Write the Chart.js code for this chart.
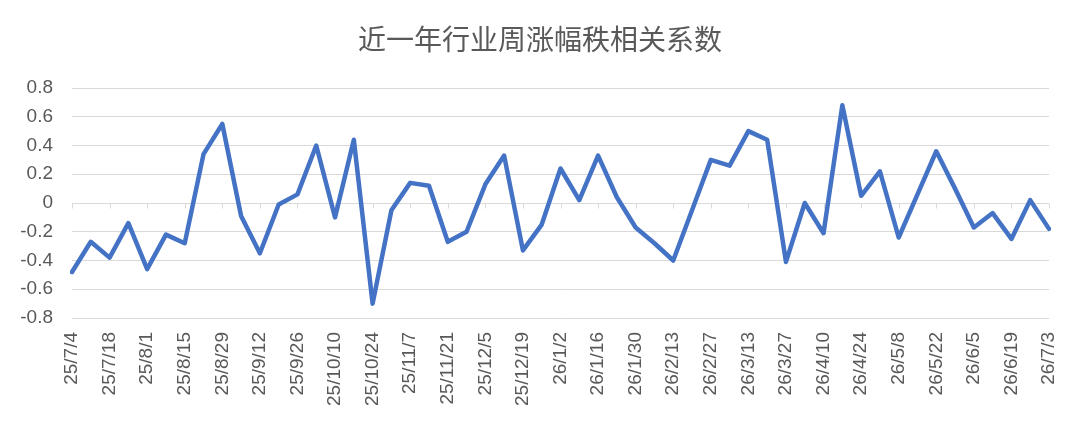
<!DOCTYPE html>
<html>
<head>
<meta charset="utf-8">
<script src="https://cdn.jsdelivr.net/npm/chart.js@4/dist/chart.umd.min.js"></script>
<style>
  html, body { margin: 0; padding: 0; background: #ffffff; }
  #wrap { width: 1080px; height: 430px; position: relative; }
</style>
</head>
<body>
<div id="wrap"><canvas id="c" width="1080" height="430"></canvas></div>
<script>
const chartTitle = "近一年行业周涨幅秩相关系数";
const categories = [
  "25/7/4","25/7/11","25/7/18","25/7/25","25/8/1","25/8/8","25/8/15","25/8/22","25/8/29",
  "25/9/5","25/9/12","25/9/19","25/9/26","25/10/3","25/10/10","25/10/17","25/10/24","25/10/31",
  "25/11/7","25/11/14","25/11/21","25/11/28","25/12/5","25/12/12","25/12/19","25/12/26",
  "26/1/2","26/1/9","26/1/16","26/1/23","26/1/30","26/2/6","26/2/13","26/2/20","26/2/27",
  "26/3/6","26/3/13","26/3/20","26/3/27","26/4/3","26/4/10","26/4/17","26/4/24",
  "26/5/1","26/5/8","26/5/15","26/5/22","26/5/29","26/6/5","26/6/12","26/6/19","26/6/26","26/7/3"
];
const rankCorr = [
  -0.48,-0.27,-0.38,-0.14,-0.46,-0.22,-0.28,0.34,0.55,
  -0.09,-0.35,-0.01,0.06,0.40,-0.10,0.44,-0.70,-0.05,
  0.14,0.12,-0.27,-0.20,0.13,0.33,-0.33,-0.15,
  0.24,0.02,0.33,0.04,-0.17,-0.28,-0.40,-0.05,0.30,
  0.26,0.50,0.44,-0.41,0.00,-0.21,0.68,0.05,0.22,
  -0.24,0.06,0.36,0.10,-0.17,-0.07,-0.25,0.02,-0.18
];
const yTicks = [0.8,0.6,0.4,0.2,0,-0.2,-0.4,-0.6,-0.8];

const textColor = "#595959";
const gridColor = "#d9d9d9";

const zeroTicks = {
  id: "zeroTicks",
  beforeDatasetsDraw(chart) {
    const x = chart.scales.x, y = chart.scales.y;
    const ctx = chart.ctx;
    const y0 = Math.round(y.getPixelForValue(0)) + 0.5;
    ctx.save();
    ctx.strokeStyle = gridColor;
    ctx.lineWidth = 1;
    ctx.beginPath();
    for (let i = 0; i < categories.length; i += 2) {
      const px = Math.round(x.getPixelForValue(i)) + 0.5;
      ctx.moveTo(px, y0);
      ctx.lineTo(px, y0 + 5);
    }
    ctx.stroke();
    ctx.restore();
  }
};

const titlePlugin = {
  id: "customTitle",
  afterDraw(chart) {
    const ctx = chart.ctx;
    ctx.save();
    ctx.fillStyle = textColor;
    ctx.font = '28px "Noto Sans CJK SC", sans-serif';
    ctx.textAlign = "center";
    ctx.textBaseline = "middle";
    ctx.fillText(chartTitle, 540, 39);
    ctx.restore();
  }
};

new Chart(document.getElementById("c"), {
  type: "line",
  data: {
    labels: categories,
    datasets: [{
      data: rankCorr,
      borderColor: "#4472C4",
      borderWidth: 4.5,
      pointRadius: 0,
      tension: 0,
      fill: false,
      borderJoinStyle: "round",
      borderCapStyle: "round"
    }]
  },
  options: {
    responsive: false,
    animation: false,
    devicePixelRatio: 1,
    layout: { padding: { top: 88, right: 31, bottom: 0, left: 0 } },
    plugins: { legend: { display: false }, tooltip: { enabled: false }, title: { display: false } },
    scales: {
      x: {
        type: "category",
        offset: false,
        grid: { display: false, drawTicks: false },
        border: { display: false },
        ticks: {
          autoSkip: false,
          maxRotation: 90,
          minRotation: 90,
          color: textColor,
          padding: 14,
          font: { family: '"Liberation Sans", Arial, sans-serif', size: 19 },
          callback: function(v, i) { return i % 2 === 0 ? categories[i] : ""; }
        },
        afterFit(scale) { scale.height = 112; scale.paddingLeft = 0; scale.paddingRight = 0; }
      },
      y: {
        min: -0.8,
        max: 0.8,
        afterBuildTicks(scale) { scale.ticks = yTicks.map(v => ({ value: v })); },
        grid: { color: gridColor, lineWidth: 1, drawTicks: false },
        border: { display: false },
        ticks: {
          color: textColor,
          padding: 19,
          font: { family: '"Liberation Sans", Arial, sans-serif', size: 19 },
          callback: function(v) { return v === 0 ? "0" : Number(v).toFixed(1); }
        },
        afterFit(scale) { scale.width = 72; }
      }
    }
  },
  plugins: [zeroTicks, titlePlugin]
});
</script>
</body>
</html>
